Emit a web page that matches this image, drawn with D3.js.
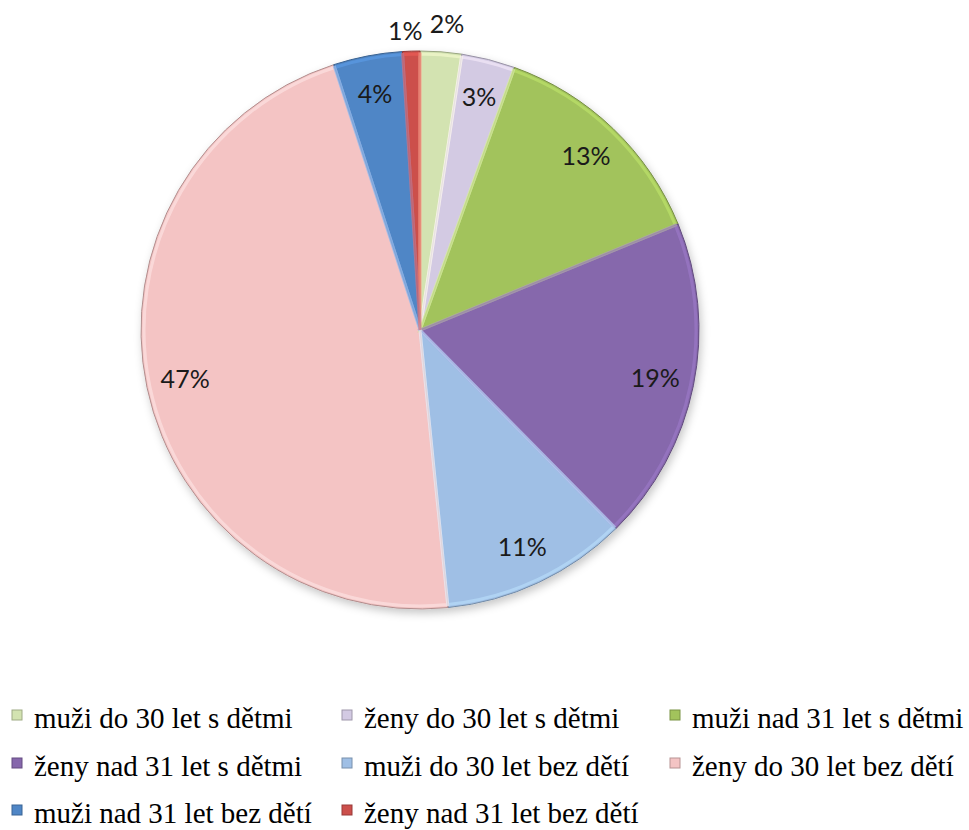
<!DOCTYPE html>
<html><head><meta charset="utf-8">
<script src="https://cdn.jsdelivr.net/npm/d3@7"></script>
</head><body style="margin:0">
<svg id="c" width="969" height="830"></svg>
<script>
const categories = ["muži do 30 let s dětmi","ženy do 30 let s dětmi","muži nad 31 let s dětmi","ženy nad 31 let s dětmi","muži do 30 let bez dětí","ženy do 30 let bez dětí","muži nad 31 let bez dětí","ženy nad 31 let bez dětí"];
const values = [2.4, 3.1, 13.3, 18.8, 10.8, 46.6, 4.0, 1.0];
const labels = ["2%","3%","13%","19%","11%","47%","4%","1%"];
const colors = ["#d3e3b1","#d3cae3","#a2c35c","#8667ac","#9fbfe5","#f4c4c4","#4f86c6","#cc4f4b"];
const outside = [true,false,false,false,false,false,false,true];

const svg = d3.select("#c").style("display","block");
const cx = 420, cy = 330, R = 279;
const defs = svg.append("defs");
const f = defs.append("filter").attr("id","sh").attr("x","-20%").attr("y","-20%").attr("width","140%").attr("height","140%");
f.append("feDropShadow").attr("dx",2).attr("dy",4).attr("stdDeviation",4).attr("flood-color","#000").attr("flood-opacity",0.22);

const data = categories.map((c,i)=>({c, v: values[i], col: colors[i], lab: labels[i], out: outside[i]}));
const pie = d3.pie().value(d=>d.v).sort(null);
const arcs = pie(data);
const arc = d3.arc().innerRadius(0).outerRadius(R);
const inset = d3.arc().innerRadius(0).outerRadius(R-3);
const g = svg.append("g").attr("transform",`translate(${cx},${cy})`);

g.append("g").attr("filter","url(#sh)").selectAll("path").data(arcs).join("path")
  .attr("d",arc).attr("fill",d=>d.data.col)
  .attr("stroke",d=>d3.color(d.data.col).darker(0.9)).attr("stroke-width",1).attr("stroke-linejoin","round");
g.append("g").selectAll("path").data(arcs).join("path")
  .attr("d",inset).attr("fill","none")
  .attr("stroke",d=>d3.color(d.data.col).brighter(0.5)).attr("stroke-width",3).attr("stroke-opacity",0.55);

const labArc = d3.arc().innerRadius(240).outerRadius(240);
const outArc = d3.arc().innerRadius(303).outerRadius(303);
g.selectAll("text.lab").data(arcs).join("text").attr("class","lab")
  .attr("transform",d=>{
    if(!d.data.out) return `translate(${labArc.centroid(d)})`;
    const [x,y] = outArc.centroid(d);
    return x<0 ? `translate(${x+12},${y+4})` : `translate(${x-13},${y-4})`;
  })
  .attr("text-anchor",d=>!d.data.out?"middle":(outArc.centroid(d)[0]<0?"end":"start"))
  .attr("dy","0.35em")
  .style("font-family","Lato").attr("font-size",25).attr("fill","#1a1a1a")
  .text(d=>d.data.lab);

const colX = [12, 342, 670], rowY = [728, 776, 823];
const lg = svg.append("g");
data.forEach((d,i)=>{
  const x = colX[i%3], y = rowY[Math.floor(i/3)];
  lg.append("rect").attr("x",x).attr("y",y-18).attr("width",10).attr("height",10)
    .attr("fill",d.col).attr("stroke",d3.color(d.col).darker(0.8)).attr("stroke-width",1);
  lg.append("text").attr("x",x+22).attr("y",y)
    .style("font-family","Liberation Serif")
    .attr("font-size",29).attr("fill","#000").text(d.c);
});
</script>
</body></html>
